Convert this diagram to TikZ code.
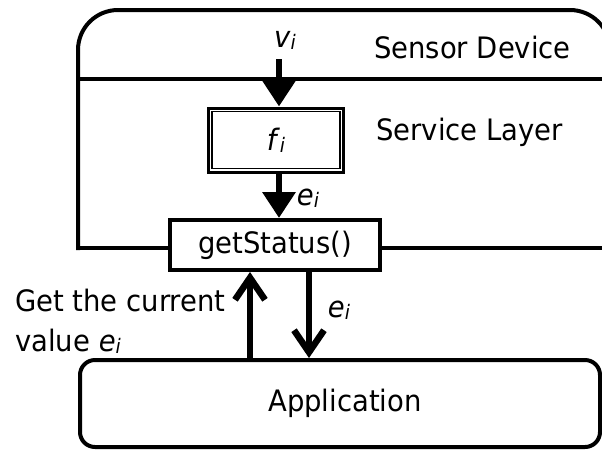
\documentclass[tikz,border=0pt]{standalone}
\usepackage{fontspec}
\setmainfont{DejaVu Sans}[FakeStretch=0.93]
\usetikzlibrary{arrows.meta}
\newcommand{\subvar}[2]{\textit{#1}\raisebox{-2pt}{\fontsize{20}{20}\selectfont\textit{#2}}}
\begin{document}
\begin{tikzpicture}[x=1pt,y=-1pt,
  lbl/.style={font=\fontsize{29.5}{34}\selectfont, inner sep=0pt},
  frame/.style={line width=4pt},
  flowin/.style={line width=6.5pt, -{Triangle[length=26pt,width=32pt]}},
  flow/.style={line width=6.5pt, -{Straight Barb[length=22pt,width=30pt]}},
]
\useasboundingbox (0,0) rectangle (602,451);
\begin{scope}
\clip (0,0) rectangle (602,451);
% boxes
\node (f) [draw, line width=3pt, minimum width=135pt, minimum height=64pt, inner sep=0pt] at (276,140) {};
\draw[line width=1.8pt] ([shift={(5,5)}]f.north west) rectangle ([shift={(-5,-5)}]f.south east);
\node[lbl] (ftext) at (f.center) {\subvar{f}{i}};
\node (gs) [draw, frame, minimum width=210pt, minimum height=50pt, inner sep=0pt, font=\fontsize{29.5}{34}\selectfont] at (275,245) {getStatus()};
\node (app) [draw, frame, rounded corners=15pt, minimum width=520pt, minimum height=87pt, inner sep=0pt, font=\fontsize{29.5}{34}\selectfont] at (340,403.5) {\hspace*{10pt}Application};
% sensor device frame
\coordinate (sdl) at (78,250);
\coordinate (sdb) at (76,248);
\coordinate (sdr) at (610,248);
\draw[frame, rounded corners=40pt] (sdl) -- (78,10) -- (610,10) -- (sdr);
\draw[frame] (sdb) -- (sdb -| gs.west);
\draw[frame] (sdr -| gs.east) -- (sdr);
\coordinate (sepl) at (78,79);
\coordinate (sepr) at (610,79);
\draw[frame] (sepl) -- (sepr);
\end{scope}
% labels
\node[lbl, anchor=base west] (sd) at (374,58) {Sensor Device};
\node[lbl, anchor=base west] (sl) at (376,140) {Service Layer};
\node[lbl] (vlab) at (285,40) {\subvar{v}{i}};
\node[lbl] (e1) at (308,198) {\subvar{e}{i}};
\node[lbl] (e2) at (339,310) {\subvar{e}{i}};
\node[lbl, anchor=base west] (g1) at (15,311) {Get the current};
\node[lbl, anchor=base west] (g2) at (15,351) {value \subvar{e}{i}};
% arrows
\coordinate (vs) at (279,59);
\draw[flowin] (vs) -- (vs |- f.north);
\draw[flowin] (f.south -| vs) -- (gs.north -| vs);
\coordinate (ux) at (250,0);
\coordinate (dx) at (309,0);
\draw[flow] (app.north -| ux) -- (gs.south -| ux);
\draw[flow] (gs.south -| dx) -- (app.north -| dx);
\end{tikzpicture}
\end{document}
